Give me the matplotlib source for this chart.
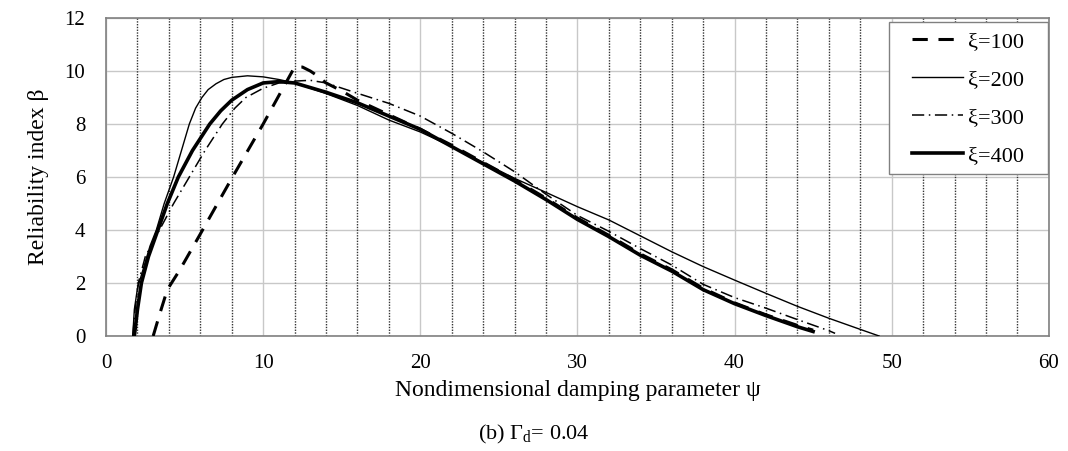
import numpy as np
import matplotlib.pyplot as plt
from matplotlib.ticker import MultipleLocator
from matplotlib.patches import Rectangle

plt.rcParams['font.family'] = ['Liberation Serif', 'DejaVu Serif']
plt.rcParams['mathtext.fontset'] = 'custom'
plt.rcParams['mathtext.rm'] = 'Liberation Serif'

# psi / beta pairs for each xi
psi_100 = [3.0, 3.4, 3.9, 4.7, 6.0, 8.0, 10.0, 12.0, 12.5, 13.0, 13.5, 14.0, 15.0, 16.0,
           18.0, 20.0, 22.0, 24.0, 26.0, 28.0, 30.0, 32.0, 34.0, 36.0, 38.0, 40.0,
           42.0, 44.0, 45.0]
beta_100 = [0.0, 0.8, 1.75, 2.5, 3.85, 5.95, 8.0, 10.15, 10.15, 10.0, 9.8, 9.55, 9.25, 8.9,
            8.35, 7.8, 7.2, 6.55, 5.9, 5.2, 4.45, 3.8, 3.1, 2.5, 1.8, 1.25,
            0.8, 0.4, 0.22]

psi_200 = [1.7, 1.8, 2.0, 2.4, 2.8, 3.2, 3.7, 4.3, 4.8, 5.3, 5.7, 6.1, 6.5, 7.0, 7.5,
           8.0, 9.0, 10.0, 11.0, 12.0, 14.0, 16.0, 18.0, 20.0, 22.0, 24.0, 26.0, 28.0,
           30.0, 32.0, 34.0, 36.0, 38.0, 40.0, 42.0, 44.0, 46.0, 48.0, 49.2]
beta_200 = [0.0, 1.0, 1.8, 2.6, 3.4, 4.0, 5.0, 6.0, 7.0, 8.0, 8.6, 9.0, 9.3, 9.52, 9.68,
            9.76, 9.82, 9.78, 9.68, 9.55, 9.15, 8.7, 8.15, 7.7, 7.15, 6.55, 5.95, 5.42,
            4.88, 4.38, 3.78, 3.18, 2.62, 2.11, 1.61, 1.12, 0.67, 0.25, 0.0]

psi_300 = [1.7, 1.85, 2.05, 2.5, 3.4, 4.3, 5.3, 6.3, 7.4, 8.2, 8.9, 10.0, 11.0, 12.0, 13.0,
           14.0, 16.0, 18.0, 20.0, 22.0, 24.0, 26.0, 28.0, 30.0, 32.0, 34.0, 36.0,
           38.0, 40.0, 42.0, 44.0, 46.0, 46.4]
beta_300 = [0.0, 1.0, 2.0, 3.0, 4.0, 5.0, 6.0, 7.0, 8.0, 8.6, 9.0, 9.35, 9.55, 9.62, 9.65,
            9.55, 9.16, 8.78, 8.3, 7.65, 6.95, 6.2, 5.35, 4.55, 3.95, 3.3, 2.68,
            1.95, 1.45, 1.05, 0.62, 0.2, 0.1]

psi_400 = [1.8, 2.0, 2.25, 2.7, 3.3, 3.9, 4.6, 5.5, 6.6, 7.3, 8.0, 9.0, 10.0, 11.0, 12.0,
           14.0, 16.0, 18.0, 20.0, 22.0, 24.0, 26.0, 28.0, 30.0, 32.0, 34.0, 36.0,
           38.0, 40.0, 42.0, 44.0, 45.0]
beta_400 = [0.0, 1.0, 2.0, 3.0, 4.0, 5.0, 6.0, 7.0, 8.0, 8.5, 8.9, 9.3, 9.55, 9.6, 9.55,
            9.2, 8.8, 8.3, 7.8, 7.15, 6.5, 5.85, 5.15, 4.4, 3.75, 3.05, 2.45,
            1.75, 1.22, 0.77, 0.35, 0.17]

labels = ['ξ=100', 'ξ=200', 'ξ=300', 'ξ=400']

fig = plt.figure(figsize=(10.68, 4.51), dpi=100)
ax = fig.add_axes([0.0993, 0.255, 0.8827, 0.705])

ax.set_xlim(0, 60)
ax.set_ylim(0, 12)
ax.xaxis.set_major_locator(MultipleLocator(10))
ax.xaxis.set_minor_locator(MultipleLocator(2))
ax.yaxis.set_major_locator(MultipleLocator(2))

ax.grid(which='major', color='#c8c8c8', lw=1.0)
# dotted verticals at every 2, skip the ones under major lines
for xv in np.arange(2, 60, 2):
    if xv % 10:
        ax.axvline(xv, color='#333333', lw=1.0, ls=(0, (1, 1)), zorder=1)
ax.set_axisbelow(True)

ax.plot(psi_100, beta_100, color='black', lw=2.2, ls=(0, (5, 3.5)), label=labels[0], zorder=3)
ax.plot(psi_200, beta_200, color='black', lw=1.0, ls='-', label=labels[1], zorder=3)
ax.plot(psi_300, beta_300, color='black', lw=1.1, ls=(0, (8, 3, 1, 3)), label=labels[2], zorder=3)
ax.plot(psi_400, beta_400, color='black', lw=2.6, ls='-', label=labels[3], zorder=3)

for s in ax.spines.values():
    s.set_color('#808080')
    s.set_linewidth(1.2)
ax.tick_params(which='both', length=0, labelsize=15)
ax.tick_params(axis='x', pad=13)
ax.tick_params(axis='y', pad=15)

ax.set_xlabel('Nondimensional damping parameter ψ', fontsize=17, labelpad=5)
ax.set_ylabel('Reliability index β', fontsize=17, labelpad=11)

# legend box drawn separately so the side padding can be wider than top/bottom
box = Rectangle((0.831, 0.509), 0.1686, 0.478, transform=ax.transAxes,
                facecolor='white', edgecolor='#808080', lw=1.0, zorder=4)
ax.add_patch(box)
leg = ax.legend(loc='upper left', bbox_to_anchor=(0.855, 0.958), borderaxespad=0,
                fontsize=16, handlelength=2.3, handletextpad=0.2, labelspacing=0.78,
                borderpad=0, frameon=False)
leg.set_zorder(5)

fig.text(0.5, 0.025, r'(b) Γ$_\mathregular{d}$= 0.04', ha='center', fontsize=16)

fig.savefig('out.png', dpi=100)
